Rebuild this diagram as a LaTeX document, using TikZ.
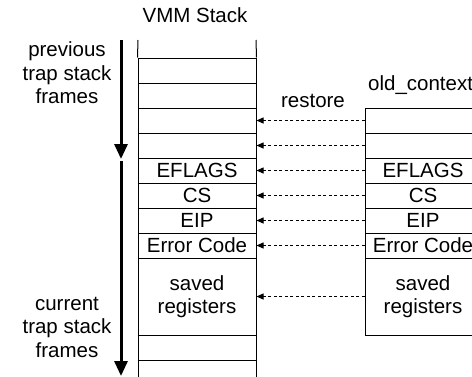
\documentclass[tikz,border=0pt]{standalone}
\usepackage{fontspec}
\setmainfont{Liberation Sans}
\usetikzlibrary{arrows.meta}

\begin{document}
\begin{tikzpicture}[x=1pt, y=-1pt, font=\fontsize{20.5}{23.5}\selectfont]
			\tikzstyle{Cell}	= [draw, line width=1pt, minimum width=118pt, minimum height=25pt, inner sep=0pt]
			\tikzstyle{OldCell}	= [Cell, minimum width=116pt]
			\tikzstyle{Saved}	= [align=center, minimum height=77pt]
			\tikzstyle{Label}	= [align=center, inner sep=0pt]
			\tikzstyle{Restore}	= [line width=0.8pt, dash pattern=on 3pt off 2.5pt, -{Triangle[width=6pt,length=7pt]}]
			\tikzstyle{Frames}	= [line width=3pt, -{Triangle[width=13pt,length=15pt]}]

			\useasboundingbox (0,0) rectangle (472,376);
			\clip (0,0) rectangle (472,376);

			\node (title) at (195,15) {VMM Stack};
			\node (prev) at (67,73) [Label] {previous\\trap stack\\frames};
			\node (curr) at (67,327) [Label] {current\\trap stack\\frames};
			\node (restore) at (313,101) {restore};
			\node (oldname) at (368,85) [anchor=west, inner sep=0pt] {old\_context};

			% VMM stack
			\node (s1) at (197,70.5) [Cell] {};
			\node (s2) at (197,95.5) [Cell] {};
			\node (s3) at (197,120.5) [Cell] {};
			\node (s4) at (197,145.5) [Cell] {};
			\node (s5) at (197,170.5) [Cell] {EFLAGS};
			\node (s6) at (197,195.5) [Cell] {CS};
			\node (s7) at (197,220.5) [Cell] {EIP};
			\node (s8) at (197,245.5) [Cell] {Error Code};
			\node (s9) at (197,296.5) [Cell, Saved] {saved\\registers};
			\node (s10) at (197,347.5) [Cell] {};
			\node (s11) at (197,372.5) [Cell] {};
			\coordinate (topl) at (138,40);
			\coordinate (topr) at (256,40);
			\draw [line width=1pt] (topl) -- (s1.north west);
			\draw [line width=1pt] (topr) -- (s1.north east);

			% old_context
			\node (o1) at (423,120.5) [OldCell] {};
			\node (o2) at (423,145.5) [OldCell] {};
			\node (o3) at (423,170.5) [OldCell] {EFLAGS};
			\node (o4) at (423,195.5) [OldCell] {CS};
			\node (o5) at (423,220.5) [OldCell] {EIP};
			\node (o6) at (423,245.5) [OldCell] {Error Code};
			\node (o7) at (423,296.5) [OldCell, Saved] {saved\\registers};

			\draw [Restore] (o1.west) to (s3.east);
			\draw [Restore] (o2.west) to (s4.east);
			\draw [Restore] (o3.west) to (s5.east);
			\draw [Restore] (o4.west) to (s6.east);
			\draw [Restore] (o5.west) to (s7.east);
			\draw [Restore] (o6.west) to (s8.east);
			\draw [Restore] (o7.west) to (s9.east);

			% frame arrows
			\coordinate (f1) at (121,40);
			\coordinate (f2) at (121,159);
			\coordinate (f3) at (121,161);
			\coordinate (f4) at (121,376);
			\draw [Frames] (f1) to (f2);
			\draw [Frames] (f3) to (f4);
		\end{tikzpicture}
\end{document}
